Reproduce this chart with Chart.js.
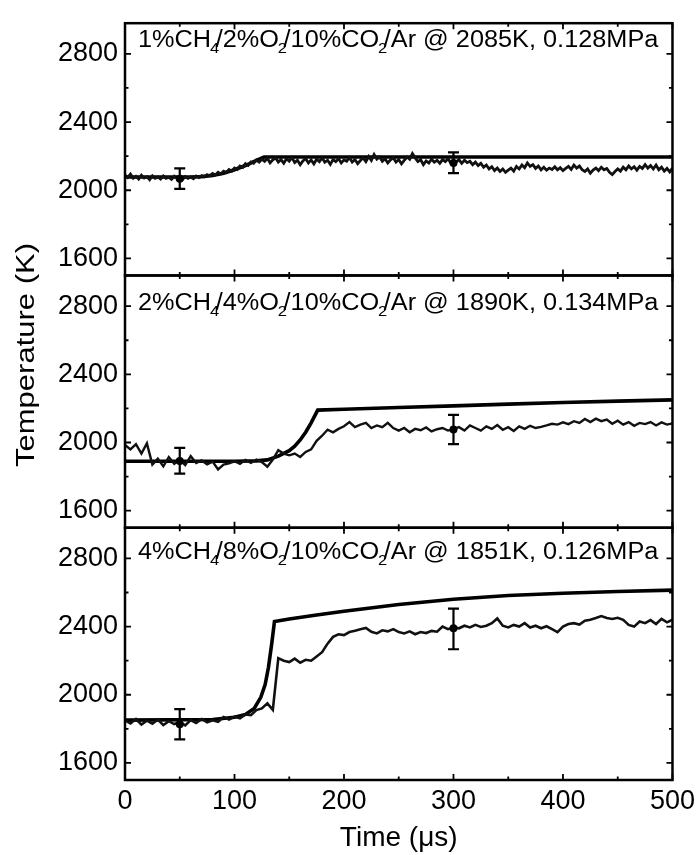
<!DOCTYPE html>
<html><head><meta charset="utf-8">
<script src="https://cdn.jsdelivr.net/npm/chart.js@4/dist/chart.umd.min.js"></script>
<style>html,body{margin:0;padding:0;background:#fff}#wrap{width:700px;height:855px}</style>
</head><body><div id="wrap"><canvas id="c" width="700" height="855"></canvas></div>
<script>
const FONT = '"Liberation Sans", Arial, Helvetica, sans-serif';

// ---- axes ----
const xTickValues = [0, 100, 200, 300, 400, 500];
const xMinorValues = [50, 150, 250, 350, 450];
const yTickValues = [1600, 2000, 2400, 2800];
const yMinorValues = [1800, 2200, 2600];
const yRange = [1500, 2980];
const xRange = [0, 500];

// ---- panel labels (_d = subscript digit) ----
const labelTop = '1%CH_4/2%O_2/10%CO_2/Ar @ 2085K, 0.128MPa';
const labelMid = '2%CH_4/4%O_2/10%CO_2/Ar @ 1890K, 0.134MPa';
const labelBot = '4%CH_4/8%O_2/10%CO_2/Ar @ 1851K, 0.126MPa';

// ---- experimental traces (sampled at fixed step, μs) ----
const expStepTop = 2.5;
const expTop = [
 2090,2075,2095,2070,2082,2065,2088,2072,2080,2062,
 2085,2070,2078,2066,2084,2070,2076,2064,2082,2068,
 2075,2062,2080,2070,2078,2068,2084,2074,2086,2078,
 2092,2084,2098,2090,2106,2096,2112,2104,2122,2112,
 2130,2122,2142,2134,2156,2146,2166,2158,2178,2165,
 2182,2170,2188,2160,2178,2190,2165,2180,2158,2185,
 2170,2192,2162,2176,2150,2172,2186,2160,2178,2155,
 2182,2168,2190,2164,2176,2152,2180,2168,2186,2160,
 2178,2170,2192,2165,2180,2156,2174,2190,2168,2198,
 2175,2210,2182,2195,2170,2185,2160,2178,2190,2165,
 2180,2155,2175,2195,2182,2215,2190,2168,2180,2150,
 2172,2160,2182,2165,2175,2158,2180,2168,2185,2160,
 2172,2165,2180,2158,2176,2162,2170,2150,2165,2145,
 2158,2135,2148,2125,2138,2115,2130,2110,2125,2105,
 2118,2130,2112,2140,2125,2148,2132,2160,2140,2150,
 2128,2142,2120,2135,2118,2130,2122,2138,2120,2132,
 2115,2128,2140,2122,2148,2130,2142,2120,2110,2125,
 2100,2118,2130,2115,2135,2120,2128,2105,2092,2110,
 2125,2112,2135,2120,2142,2125,2138,2118,2140,2128,
 2150,2130,2145,2125,2148,2120,2135,2112,2128,2108,
 2130];
const expStepMid = 5;
const expMid = [
 1985,1960,1990,1935,1995,1870,1905,1860,1915,1875,
 1900,1868,1920,1880,1895,1872,1888,1842,1870,1878,
 1890,1875,1898,1880,1900,1885,1858,1900,1955,1935,
 1925,1935,1915,1945,1960,2010,2040,2075,2060,2080,
 2095,2120,2090,2105,2115,2085,2100,2090,2115,2085,
 2070,2085,2060,2080,2072,2088,2065,2078,2085,2070,
 2078,2090,2070,2100,2085,2070,2095,2080,2102,2075,
 2090,2068,2095,2080,2098,2085,2092,2100,2110,2105,
 2118,2108,2125,2115,2138,2120,2140,2125,2135,2110,
 2128,2105,2120,2098,2115,2108,2120,2100,2118,2105,
 2112];
const expStepBot = 5;
const expBot = [
 1850,1832,1858,1825,1848,1830,1855,1822,1845,1828,
 1840,1820,1852,1835,1858,1838,1850,1842,1870,1855,
 1872,1862,1885,1880,1910,1920,1950,1912,2215,2200,
 2192,2212,2188,2205,2200,2225,2250,2300,2340,2355,
 2350,2368,2375,2385,2392,2370,2360,2378,2372,2385,
 2368,2360,2372,2355,2368,2362,2375,2370,2400,2385,
 2395,2390,2405,2395,2410,2398,2405,2420,2448,2405,
 2395,2410,2400,2420,2395,2405,2390,2402,2385,2368,
 2400,2415,2420,2412,2435,2440,2450,2462,2450,2445,
 2452,2440,2410,2400,2430,2420,2438,2415,2445,2425,
 2440];

// ---- simulations ----
const simTopT = [0, 60, 70, 80, 90, 100, 110, 120, 127, 200, 300, 400, 500];
const simTopK = [2078, 2078, 2080, 2087, 2100, 2120, 2145, 2175, 2195, 2195, 2195, 2195, 2195];
const simMidT = [0, 100, 120, 130, 140, 150, 155, 160, 165, 170, 176, 200, 250, 300, 350, 400, 450, 500];
const simMidK = [1890, 1890, 1892, 1898, 1920, 1952, 1978, 2015, 2060, 2115, 2190, 2195, 2205, 2215, 2225, 2235, 2243, 2250];
const simBotT = [0, 80, 100, 110, 118, 124, 128, 131, 134, 136.5, 150, 175, 200, 250, 300, 350, 400, 450, 500];
const simBotK = [1851, 1855, 1868, 1885, 1920, 1985, 2060, 2160, 2300, 2430, 2445, 2468, 2490, 2530, 2560, 2582, 2596, 2606, 2614];

// ---- error bars ----
const errT = [50, 300];
const errTopMid = [2068, 2160], errTopLo = [2008, 2100], errTopHi = [2128, 2222];
const errMidMid = [1892, 2076], errMidLo = [1817, 1990], errMidHi = [1968, 2162];
const errBotMid = [1827, 2390], errBotLo = [1738, 2267], errBotHi = [1916, 2506];

// ---------------------------------------------------------------
const toXY = (step, vals) => vals.map((v, i) => ({x: i * step, y: v}));
const pairs = (ts, vs) => ts.map((t, i) => ({x: t, y: vs[i]}));

const panels = [
  {axis: 'yTop', label: labelTop, base: 24, err: {mid: errTopMid, lo: errTopLo, hi: errTopHi}},
  {axis: 'yMid', label: labelMid, base: 35, err: {mid: errMidMid, lo: errMidLo, hi: errMidHi}},
  {axis: 'yBot', label: labelBot, base: 31, err: {mid: errBotMid, lo: errBotLo, hi: errBotHi}},
];

function expDs(data, axis, w) {
  return {data, yAxisID: axis, borderColor: '#111', borderWidth: w, pointRadius: 0, tension: 0, fill: false};
}
function simDs(data, axis) {
  return {data, yAxisID: axis, borderColor: '#000', borderWidth: 3.6, pointRadius: 0, tension: 0, fill: false};
}

function drawLabel(ctx, text, x, y) {
  const parts = [];
  let i = 0, buf = '';
  while (i < text.length) {
    if (text[i] === '_') { if (buf) parts.push({t: buf, sub: false}); buf = ''; parts.push({t: text[i + 1], sub: true}); i += 2; }
    else { buf += text[i]; i++; }
  }
  if (buf) parts.push({t: buf, sub: false});
  ctx.save();
  ctx.translate(x, y);
  ctx.scale(1.1, 1);
  ctx.textBaseline = 'alphabetic';
  ctx.textAlign = 'left';
  let cx = 0;
  parts.forEach(p => {
    if (p.sub) {
      ctx.font = '15px ' + FONT;
      ctx.fillText(p.t, cx - 1, 6);
      cx += ctx.measureText(p.t).width * 0.5;
    } else {
      ctx.font = '23px ' + FONT;
      ctx.fillText(p.t, cx, 0);
      cx += ctx.measureText(p.t).width;
    }
  });
  ctx.restore();
}

const panelPlugin = {
  id: 'panelPlugin',
  afterDatasetsDraw(chart) {
    const ctx = chart.ctx;
    const xs = chart.scales.x;
    ctx.save();
    ctx.strokeStyle = '#000';
    ctx.fillStyle = '#000';
    panels.forEach(p => {
      const ys = chart.scales[p.axis];
      // error bars
      errT.forEach((t, i) => {
        const px = xs.getPixelForValue(t);
        const pl = ys.getPixelForValue(p.err.lo[i]);
        const ph = ys.getPixelForValue(p.err.hi[i]);
        const pc = ys.getPixelForValue(p.err.mid[i]);
        ctx.lineWidth = 2.2;
        ctx.beginPath();
        ctx.moveTo(px, pl); ctx.lineTo(px, ph);
        ctx.moveTo(px - 5.5, pl); ctx.lineTo(px + 5.5, pl);
        ctx.moveTo(px - 5.5, ph); ctx.lineTo(px + 5.5, ph);
        ctx.stroke();
        ctx.beginPath(); ctx.arc(px, pc, 4, 0, Math.PI * 2); ctx.fill();
      });
      // frame
      ctx.lineWidth = 2.5;
      ctx.strokeRect(xs.left, ys.top, xs.right - xs.left, ys.bottom - ys.top);
      // ticks (inward, all four sides)
      ctx.lineWidth = 1.8;
      const xt = (vals, len) => vals.forEach(v => {
        const px = xs.getPixelForValue(v);
        ctx.beginPath();
        ctx.moveTo(px, ys.bottom); ctx.lineTo(px, ys.bottom - len);
        ctx.moveTo(px, ys.top); ctx.lineTo(px, ys.top + len);
        ctx.stroke();
      });
      const yt = (vals, len) => vals.forEach(v => {
        const py = ys.getPixelForValue(v);
        ctx.beginPath();
        ctx.moveTo(xs.left, py); ctx.lineTo(xs.left + len, py);
        ctx.moveTo(xs.right, py); ctx.lineTo(xs.right - len, py);
        ctx.stroke();
      });
      xt(xTickValues, 6); xt(xMinorValues, 3.5);
      yt(yTickValues, 6); yt(yMinorValues, 3.5);
      // label
      drawLabel(ctx, p.label, xs.left + 13, ys.top + p.base);
    });
    // y axis title
    ctx.save();
    ctx.translate(27, 355);
    ctx.rotate(-Math.PI / 2);
    ctx.font = '26px ' + FONT;
    const title = 'Temperature (K)';
    const w = ctx.measureText(title).width;
    ctx.scale(224 / w, 1);
    ctx.textAlign = 'center';
    ctx.textBaseline = 'middle';
    ctx.fillText(title, 0, 0);
    ctx.restore();
    ctx.restore();
  }
};

function yAxis(weight) {
  return {
    type: 'linear', position: 'left', stack: 'T', stackWeight: 1, weight: weight,
    min: yRange[0], max: yRange[1], offset: false,
    grid: {display: false, drawTicks: false}, border: {display: false},
    afterBuildTicks: s => { s.ticks = yTickValues.map(v => ({value: v})); },
    afterFit: s => { s.width = 125; },
    ticks: {font: {family: FONT, size: 27}, color: '#000', padding: 7, callback: v => String(v)}
  };
}

new Chart(document.getElementById('c').getContext('2d'), {
  type: 'line',
  data: {
    datasets: [
      expDs(toXY(expStepTop, expTop), 'yTop', 2.8),
      simDs(pairs(simTopT, simTopK), 'yTop'),
      expDs(toXY(expStepMid, expMid), 'yMid', 2.4),
      simDs(pairs(simMidT, simMidK), 'yMid'),
      expDs(toXY(expStepBot, expBot), 'yBot', 2.6),
      simDs(pairs(simBotT, simBotK), 'yBot'),
    ]
  },
  options: {
    responsive: false,
    animation: false,
    layout: {padding: {top: 12, right: 22, left: 0, bottom: 0}},
    plugins: {legend: {display: false}, tooltip: {enabled: false}},
    scales: {
      x: {
        type: 'linear', position: 'bottom', min: xRange[0], max: xRange[1],
        grid: {display: false, drawTicks: false}, border: {display: false},
        afterBuildTicks: s => { s.ticks = xTickValues.map(v => ({value: v})); },
        afterFit: s => { s.height = 75; },
        ticks: {font: {family: FONT, size: 27}, color: '#000', padding: 5, maxRotation: 0, callback: v => String(v)},
        title: {display: true, text: 'Time (μs)', font: {family: FONT, size: 28}, color: '#000', padding: {top: 0, bottom: 0}}
      },
      yTop: yAxis(3),
      yMid: yAxis(2),
      yBot: yAxis(1)
    }
  },
  plugins: [panelPlugin]
});
</script>
</body></html>
